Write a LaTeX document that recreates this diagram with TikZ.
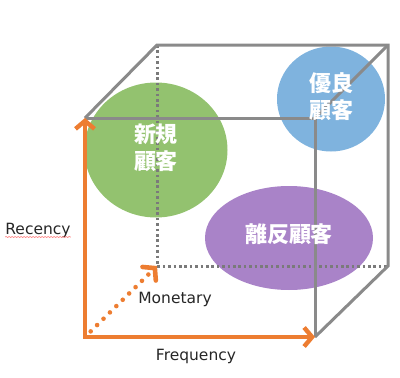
\documentclass[tikz,border=0pt]{standalone}
\usepackage{fontspec}
\setmainfont{DejaVu Sans}
\newfontfamily\jpfont{Noto Sans CJK JP}
\usepackage{tikz}
\usetikzlibrary{arrows.meta,shapes.geometric,decorations.pathmorphing}
\definecolor{edgegray}{HTML}{8A8A8A}
\definecolor{dotgray}{HTML}{7A7A7A}
\definecolor{axisorange}{HTML}{ED7D31}
\definecolor{leafgreen}{HTML}{93C26F}
\definecolor{skyblue}{HTML}{7FB3DE}
\definecolor{lilac}{HTML}{A983C8}
\definecolor{ink}{HTML}{262626}

\begin{document}
\begin{tikzpicture}[x=1pt,y=-1pt]
    \tikzset{
      edge/.style={draw=edgegray,line width=3pt},
      hidden/.style={draw=dotgray,line width=3pt,dash pattern=on 2.6pt off 2.8pt},
      axis/.style={draw=axisorange,line width=4.4pt,line cap=rect,-{Straight Barb[length=8pt,width=19pt]}},
      depth/.style={draw=axisorange,line width=4.6pt,line cap=round,dash pattern=on 0pt off 9pt,-{Straight Barb[length=8pt,width=19pt,line cap=round]}},
      blob/.style={ellipse,draw=none,inner sep=0pt},
      segment/.style={text=white,align=center,font=\jpfont\bfseries\fontsize{22}{27}\selectfont},
      axislabel/.style={text=ink,inner sep=0pt,font=\fontsize{15.5}{18}\selectfont}
    }
    \useasboundingbox (0,0) rectangle (400,378);
    % cube corners
    \coordinate (fbl) at (85,337);
    \coordinate (fbr) at (315,337);
    \coordinate (ftl) at (85,118);
    \coordinate (ftr) at (315,118);
    \coordinate (bbl) at (157,266);
    \coordinate (bbr) at (388,266);
    \coordinate (btl) at (157,45);
    \coordinate (btr) at (388,45);
    % customer segments
    \node[blob,fill=leafgreen,minimum width=143pt,minimum height=135pt] (newc) at (156,150) {};
    \node[blob,fill=skyblue,minimum width=108pt,minimum height=105pt] (loyal) at (331,99) {};
    \node[blob,fill=lilac,minimum width=168pt,minimum height=104pt] (lapsed) at (289,238) {};
    % cube edges
    \draw[hidden] (btl) -- (bbl) -- (bbr);
    \draw[edge] (ftl) -- (btl) -- (btr) -- (bbr) -- (fbr);
    \draw[edge] (ftl) -- (ftr) -- (fbr);
    \draw[edge] (ftr) -- (btr);
    % RFM axes
    \draw[axis] (fbl) -- (ftl);
    \draw[axis] (fbl) -- (fbr);
    \draw[depth,shorten <=8pt] (fbl) -- (bbl);
    \node[segment] at ([yshift=2pt]newc.center) {新規\\顧客};
    \node[segment] at ([yshift=2pt]loyal.center) {優良\\顧客};
    \node[segment] at ([yshift=4pt]lapsed.center) {離反顧客};
    \node[axislabel,anchor=base] (rlab) at (38,234) {Recency};
    \node[axislabel,anchor=base] (mlab) at (175,303) {Monetary};
    \node[axislabel,anchor=base] (flab) at (196,360) {Frequency};
    \draw[red!50,line width=0.6pt,decorate,decoration={snake,amplitude=0.6pt,segment length=3pt}]
      ([yshift=-3pt]rlab.base west) -- ([yshift=-3pt]rlab.base east);
  \end{tikzpicture}
\end{document}
